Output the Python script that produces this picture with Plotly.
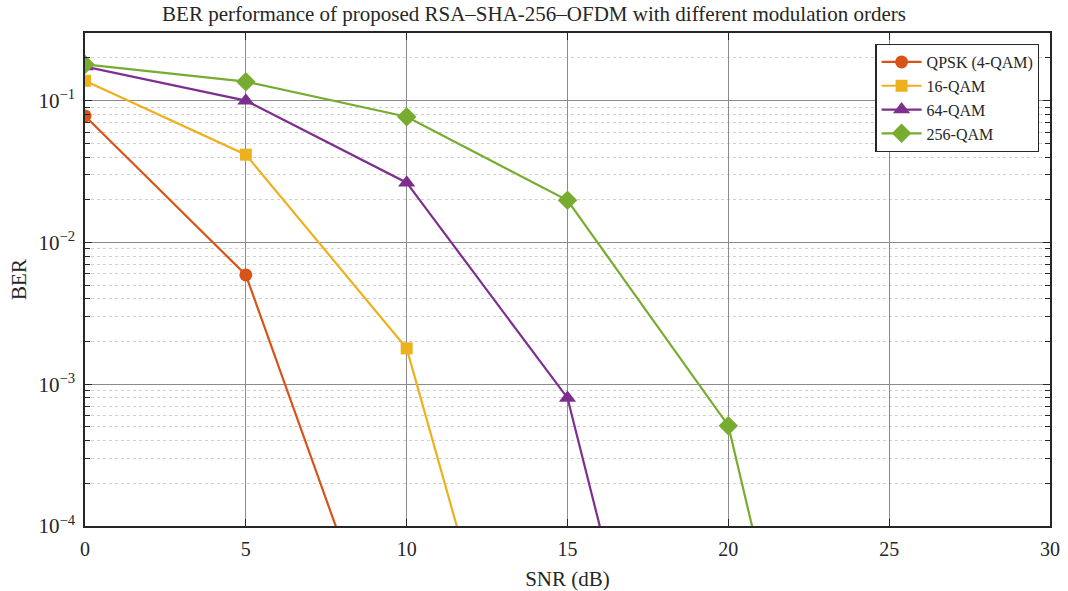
import plotly.graph_objects as go
import numpy as np

snr = [0, 5, 10, 15, 20, 25]
qpsk = [0.078, 0.0059, 4e-6]
qam16 = [0.138, 0.0416, 0.00179, 1.7e-7]
qam64 = [0.174, 0.100, 0.0264, 0.00080, 2.5e-8]
qam256 = [0.180, 0.136, 0.077, 0.0198, 0.00051, 8e-9]

x_ticks = [0, 5, 10, 15, 20, 25, 30]
y_ticks = [1e-4, 1e-3, 1e-2, 1e-1]
y_tick_text = ["10<sup>\u22124</sup>", "10<sup>\u22123</sup>", "10<sup>\u22122</sup>", "10<sup>\u22121</sup>"]

series = [
    ("QPSK (4-QAM)", qpsk, "#D95319", "circle", 13),
    ("16-QAM", qam16, "#EDB120", "square", 12),
    ("64-QAM", qam64, "#7E2F8E", "triangle-up", 15),
    ("256-QAM", qam256, "#77AC30", "diamond", 15),
]

FONT = "Liberation Serif, Times New Roman, serif"

fig = go.Figure()
for name, vals, color, sym, msize in series:
    fig.add_trace(go.Scatter(
        x=snr[:len(vals)], y=vals, name=name, mode="lines+markers",
        line=dict(color=color, width=2.2),
        marker=dict(symbol=sym, size=msize, color=color),
        cliponaxis=True,
    ))

minor_vals = [m * 10.0 ** e for e in range(-4, 0) for m in range(2, 10)]
minor_vals = [v for v in minor_vals if v < 0.3]

fig.update_layout(
    width=1068, height=591,
    margin=dict(l=85, r=18, t=33, b=65),
    paper_bgcolor="white", plot_bgcolor="white",
    font=dict(family=FONT, size=20, color="#262626"),
    title=dict(text="BER performance of proposed RSA\u2013SHA-256\u2013OFDM with different modulation orders",
               x=0.5, xanchor="center", y=0.977, yanchor="middle",
               font=dict(family=FONT, size=21, color="#262626")),
    legend=dict(x=0.989, y=0.978, xanchor="right", yanchor="top",
                bgcolor="white", bordercolor="#262626", borderwidth=1.2,
                font=dict(family=FONT, size=16, color="#262626"),
                tracegroupgap=0, itemwidth=40),
    showlegend=True,
)
fig.update_xaxes(
    range=[0, 30], tickmode="array", tickvals=x_ticks, automargin=False,
    ticks="inside", ticklen=7, tickcolor="#262626", ticklabelstandoff=4,
    showline=True, linecolor="#262626", linewidth=1.5, mirror="allticks",
    showgrid=True, gridcolor="#8c8c8c", gridwidth=1.2, zeroline=False,
    title=dict(text="SNR (dB)", standoff=14, font=dict(family=FONT, size=21)),
    tickfont=dict(family=FONT, size=20),
)
fig.update_yaxes(
    type="log", range=[-4, np.log10(0.3)], tickmode="array", automargin=False,
    tickvals=y_ticks, ticktext=y_tick_text,
    ticks="inside", ticklen=7, tickcolor="#262626", ticklabelstandoff=4,
    showline=True, linecolor="#262626", linewidth=1.5, mirror="allticks",
    showgrid=True, gridcolor="#8c8c8c", gridwidth=1.2, zeroline=False,
    minor=dict(tickmode="array", tickvals=minor_vals, ticks="inside", ticklen=5,
               tickcolor="#262626", showgrid=True, gridcolor="#d0d0d0", griddash="dot"),
    title=dict(text="BER", standoff=6, font=dict(family=FONT, size=21)),
    tickfont=dict(family=FONT, size=21),
)

fig.write_html("out.html")
